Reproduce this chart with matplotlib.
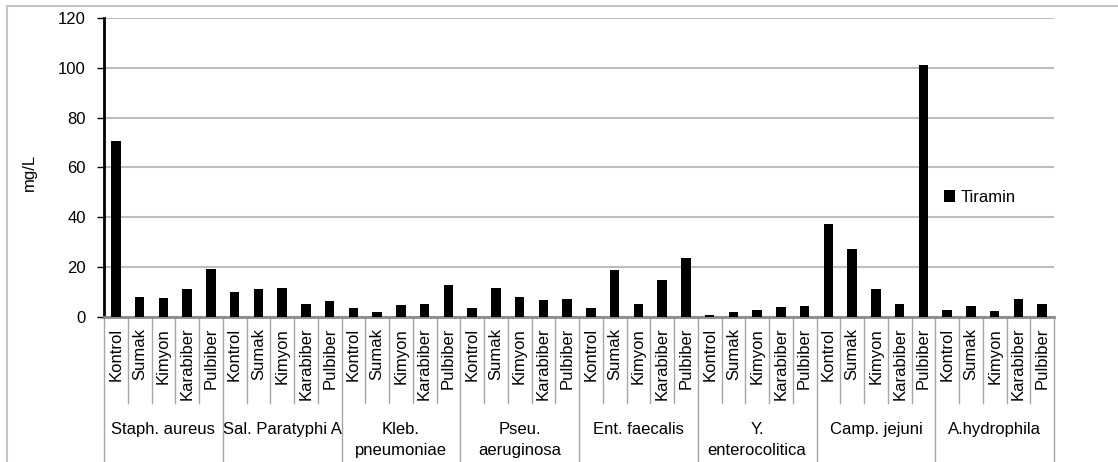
import numpy as np
import matplotlib
matplotlib.use("Agg")
import matplotlib.pyplot as plt
from matplotlib.lines import Line2D

plt.rcParams['font.family'] = ['Liberation Sans', 'DejaVu Sans']

groups = ['Staph. aureus', 'Sal. Paratyphi A', 'Kleb.\npneumoniae', 'Pseu.\naeruginosa',
          'Ent. faecalis', 'Y.\nenterocolitica', 'Camp. jejuni', 'A.hydrophila']
treatments = ['Kontrol', 'Sumak', 'Kimyon', 'Karabiber', 'Pulbiber']

# Tiramin (mg/L), 5 treatments per group
staph = [70.7, 7.9, 7.5, 11.1, 19.1]
salm = [10.1, 11.0, 11.6, 5.2, 6.4]
kleb = [3.4, 1.9, 4.5, 5.1, 12.7]
pseu = [3.4, 11.6, 8.0, 6.7, 7.1]
ent = [3.5, 18.7, 5.1, 14.7, 23.7]
yers = [0.5, 2.0, 2.5, 3.9, 4.3]
camp = [37.3, 27.3, 11.3, 5.1, 101.1]
aero = [2.5, 4.1, 2.3, 7.3, 5.0]

yticks = [0, 20, 40, 60, 80, 100, 120]

values = staph + salm + kleb + pseu + ent + yers + camp + aero
n = len(values)
ng = len(treatments)
x = np.arange(n) + 0.5

W, H = 1118, 462
fig = plt.figure(figsize=(W / 100, H / 100), dpi=100)
ax = fig.add_axes([104 / W, (H - 316.7) / H, 950 / W, (316.7 - 18) / H])

ax.bar(x, values, width=0.4, color='black', label='Tiramin', zorder=3)
ax.set_xlim(0, n)
ax.set_ylim(0, 120)
ax.set_yticks(yticks)
ax.grid(axis='y', color='#bdbdbd', linewidth=1.5, zorder=0)

for s in ['top', 'right']:
    ax.spines[s].set_visible(False)
ax.spines['left'].set_linewidth(2)
ax.spines['bottom'].set_color('#8c8c8c')
ax.spines['bottom'].set_linewidth(2)

ax.tick_params(axis='y', length=5, width=1, pad=8, labelsize=12)
ax.set_xticks(x, treatments * len(groups), rotation=90)
ax.tick_params(axis='x', length=0, pad=8, labelsize=12)

ax.set_ylabel('mg/L', fontsize=12)
ax.yaxis.set_label_coords(-0.071, 0.484)

tr = ax.get_xaxis_transform()
# category separators
for k in range(n + 1):
    if k % ng == 0:
        y0 = -0.5
    else:
        y0 = -0.289
    ax.add_line(Line2D([k, k], [0, y0], transform=tr, color='#a6a6a6',
                       linewidth=1, clip_on=False))

for i, g in enumerate(groups):
    ax.text(i * ng + ng / 2, -0.351, g, transform=tr, ha='center', va='top',
            fontsize=12, linespacing=1.55)

ax.legend(loc='center left', bbox_to_anchor=(0.884, 0.399), frameon=False,
          handlelength=0.7, handleheight=0.7, handletextpad=0.3,
          borderpad=0, borderaxespad=0, fontsize=12)

# outer frame of the chart area
fig.add_artist(Line2D([7 / W, 1.0], [1 - 6 / H, 1 - 6 / H], transform=fig.transFigure,
                      color='#c4c4c4', linewidth=1.5))
fig.add_artist(Line2D([7 / W, 7 / W], [0, 1 - 6 / H], transform=fig.transFigure,
                      color='#c4c4c4', linewidth=1.5))

fig.savefig('out.png', dpi=100)
